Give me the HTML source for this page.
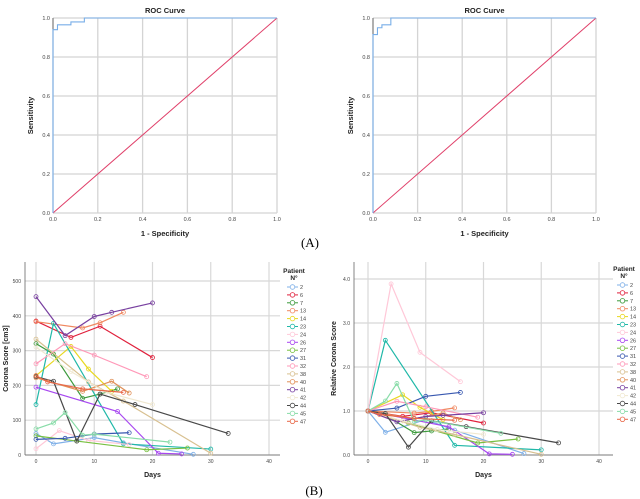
<!DOCTYPE html>
<html><head><meta charset="utf-8">
<style>
html,body{margin:0;padding:0;background:#fff;}
svg{display:block;font-family:"Liberation Sans",sans-serif;}
</style></head>
<body>
<svg id="fig" width="640" height="499" viewBox="0 0 640 499" xmlns="http://www.w3.org/2000/svg">
<text x="310" y="247" font-family="Liberation Serif,serif" font-size="13" text-anchor="middle">(A)</text>
<text x="314" y="495" font-family="Liberation Serif,serif" font-size="13" text-anchor="middle">(B)</text>
</svg>
<script>
const NS='http://www.w3.org/2000/svg';
const svg=document.getElementById('fig');
// ROC data
const rocTicks=['0.0','0.2','0.4','0.6','0.8','1.0'];
const rocTickVals=[0,0.2,0.4,0.6,0.8,1];
const roc1X=[0,0,0.02,0.02,0.08,0.08,0.14,0.14,1];
const roc1Y=[0,0.94,0.94,0.965,0.965,0.98,0.98,1,1];
const roc2X=[0,0,0.02,0.02,0.04,0.04,0.08,0.08,1];
const roc2Y=[0,0.915,0.915,0.95,0.95,0.965,0.965,1,1];
// Patient data
const patients=['2','6','7','13','14','23','24','26','27','31','32','38','40','41','42','44','45','47'];
const colors=['#7fb0e8','#e0203c','#3c9a3c','#f08860','#e8d820','#20b8a8','#ffc8d8','#a848f0','#78c040','#3858b0','#ff98b8','#d8c090','#e09058','#7840a0','#f0e8d0','#484848','#88dca8','#e86848'];
const days=[
[0,3,10,15,27],
[0,6,11,20],
[0,3,8,11,14],
[0,8,11,15],
[0,6,9,13],
[0,3,15,30],
[0,4,9,16],
[0,14,21,25],
[0,7,19,26],
[0,5,10,16],
[0,5,10,19],
[0,9,15,30],
[0,8,13,16],
[0,5,10,13,20],
[0,6,12,20],
[0,3,7,11,17,33],
[0,3,5,8,10,23],
[0,2,8,15]];
const scores=[
[62,32,50,35,2],
[385,338,370,280],
[320,290,163,175,190],
[383,365,380,410],
[228,312,247,183],
[145,378,32,17],
[18,70,42,30],
[195,125,5,3],
[55,40,15,20],
[45,48,60,64],
[262,320,287,225],
[333,210,155,5],
[222,183,212,178],
[455,343,398,410,437],
[310,240,180,145],
[225,212,40,175,145,62],
[75,92,122,57,60,37],
[228,210,190,180]];
const xTicks=[0,10,20,30,40];
const yTicksAbs=[0,100,200,300,400,500];
const yTicksRel=[0,1,2,3,4];

function el(tag,attrs,parent){const e=document.createElementNS(NS,tag);for(const k in attrs)e.setAttribute(k,attrs[k]);(parent||svg).appendChild(e);return e;}
function txt(x,y,s,attrs,parent){const t=el('text',Object.assign({x:x,y:y},attrs||{}),parent);t.textContent=s;return t;}

function roc(g,L,R,T,B,xs,ys){
  const sx=v=>L+(R-L)*v, sy=v=>B-(B-T)*v;
  rocTickVals.forEach((v,i)=>{
    el('line',{x1:sx(v),x2:sx(v),y1:T,y2:B,stroke:'#d4d4d4','stroke-width':1.3},g);
    el('line',{x1:L,x2:R,y1:sy(v),y2:sy(v),stroke:'#d4d4d4','stroke-width':1.3},g);
    const t1=txt(sx(v),B+8,rocTicks[i],{'font-size':5.5,'text-anchor':'middle',fill:'#444'},g);
    const t2=txt(L-3,sy(v)+2,rocTicks[i],{'font-size':5.5,'text-anchor':'end',fill:'#444'},g);
  });
  el('line',{x1:L,x2:L,y1:T,y2:B,stroke:'#555','stroke-width':0.8},g);
  const diag=el('line',{x1:sx(0),y1:sy(0),x2:sx(1),y2:sy(1),stroke:'#e0406a','stroke-width':1},g);
  
  
  const p=el('polyline',{points:xs.map((x,i)=>sx(x)+','+sy(ys[i])).join(' '),fill:'none',stroke:'#78aee8','stroke-width':1.1},g);
  
  
  const ti=txt((L+R)/2,13,'ROC Curve',{'font-size':7.5,'font-weight':'bold','text-anchor':'middle',fill:'#222'},g);
  
  
  const xt=txt((L+R)/2,236,'1 - Specificity',{'font-size':7.5,'font-weight':'bold','text-anchor':'middle',fill:'#222'},g);
  
  
  const yt=txt(0,0,'Sensitivity',{'font-size':7.5,'font-weight':'bold','text-anchor':'middle',fill:'#222',transform:`translate(${L-20},${(T+B)/2}) rotate(-90)`},g);
  
  
}
const g1=el('g',{});


roc(g1,53,277,18,213,roc1X,roc1Y);
const g2=el('g',{});


roc(g2,373,596,18,213,roc2X,roc2Y);

function lineChart(g,o){
  const sx=v=>o.x0+(o.x40-o.x0)*v/40, sy=v=>o.yB-(o.yB-o.yTop)*v/o.yMax;
  xTicks.forEach(v=>{
    el('line',{x1:sx(v),x2:sx(v),y1:o.T,y2:o.yB,stroke:'#d8d8d8','stroke-width':1.2},g);
    txt(sx(v),o.yB+8,String(v),{'font-size':5,'text-anchor':'middle',fill:'#444'},g);
  });
  o.yTicks.forEach(v=>{
    el('line',{x1:o.L,x2:o.R,y1:sy(v),y2:sy(v),stroke:'#d8d8d8','stroke-width':1.2},g);
    txt(o.L-4,sy(v)+2,o.fmt(v),{'font-size':5,'text-anchor':'end',fill:'#444'},g);
  });
  el('line',{x1:o.L,x2:o.L,y1:o.T,y2:o.yB,stroke:'#666','stroke-width':0.8},g);
  el('line',{x1:o.L,x2:o.R,y1:o.yB,y2:o.yB,stroke:'#666','stroke-width':0.8},g);
  patients.forEach((p,i)=>{
    const vals=o.rel?scores[i].map(v=>v/scores[i][0]):scores[i];
    const sg=el('g',{},g);
    
    
    el('polyline',{points:days[i].map((d,j)=>sx(d)+','+sy(vals[j])).join(' '),fill:'none',stroke:colors[i],'stroke-width':1.2},sg);
    days[i].forEach((d,j)=>{
      const c=el('circle',{cx:sx(d),cy:sy(vals[j]),r:2,fill:'none',stroke:colors[i],'stroke-width':0.8},sg);
      
      
    });
    const ly=o.legY+i*7.9;
    const lg=el('g',{},g);
    
    
    el('line',{x1:o.legX,x2:o.legX+11,y1:ly,y2:ly,stroke:colors[i],'stroke-width':1},lg);
    el('circle',{cx:o.legX+5.5,cy:ly,r:2.3,fill:'#fff',stroke:colors[i],'stroke-width':0.8},lg);
    txt(o.legX+13,ly+2,p,{'font-size':5.5,fill:'#444'},lg);
  });
  const lt=txt(o.legX+7,o.legY-14,'Patient',{'font-size':6.5,'font-weight':'bold','text-anchor':'middle',fill:'#222'},g);
  
  
  txt(o.legX+7,o.legY-7,'N°',{'font-size':6.5,'font-weight':'bold','text-anchor':'middle',fill:'#222'},g);
  const xt=txt((o.L+o.R)/2,477,'Days',{'font-size':7,'font-weight':'bold','text-anchor':'middle',fill:'#222'},g);
  
  
  const yt=txt(0,0,o.ytitle,{'font-size':7,'font-weight':'bold','text-anchor':'middle',fill:'#222',transform:`translate(${o.ytX},${(o.T+o.yB)/2}) rotate(-90)`},g);
  
  
}
const g3=el('g',{});


lineChart(g3,{L:25,R:280,T:262,yB:455,x0:36,x40:269,yTop:281,yMax:500,yTicks:yTicksAbs,fmt:v=>String(v),rel:false,legX:287,legY:287,ytitle:'Corona Score [cm3]',ytX:8});
const g4=el('g',{});


lineChart(g4,{L:354,R:613,T:262,yB:455,x0:368,x40:599,yTop:279,yMax:4,yTicks:yTicksRel,fmt:v=>v.toFixed(1),rel:true,legX:617,legY:285,ytitle:'Relative Corona Score',ytX:336});
</script>
</body></html>
